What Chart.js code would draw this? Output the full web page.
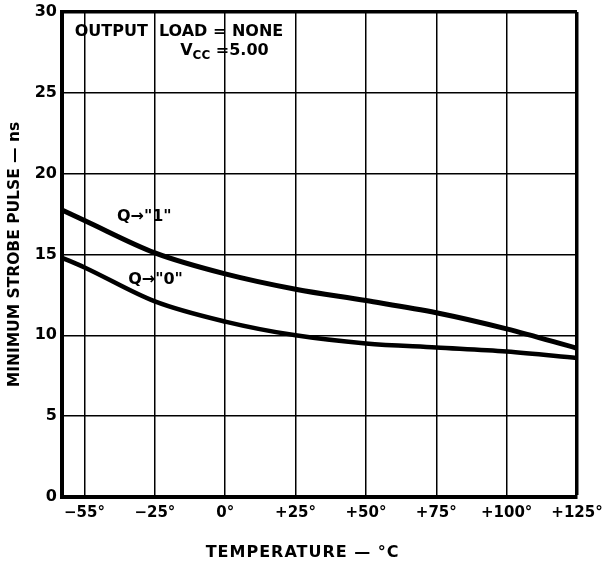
<!DOCTYPE html>
<html>
<head>
<meta charset="utf-8">
<script src="https://cdn.jsdelivr.net/npm/chart.js@4.4.1/dist/chart.umd.min.js"></script>
<style>
html,body{margin:0;padding:0;background:#fff;}
#wrap{width:605px;height:563px;position:relative;}
</style>
</head>
<body>
<div id="wrap"><canvas id="c" width="605" height="563"></canvas></div>
<script>
// Temperature positions (chart units; the first grid slot is labelled −55°)
const temps = [-58, -50, -25, 0, 25, 50, 75, 100, 125];
// Minimum strobe pulse (ns)
const pulseQ1 = [17.75, 17.1, 15.1, 13.8, 12.85, 12.15, 11.4, 10.4, 9.2];
const pulseQ0 = [14.8, 14.2, 12.1, 10.85, 10.0, 9.5, 9.25, 9.0, 8.6];
// Ticks
const xTickValues = [-50, -25, 0, 25, 50, 75, 100, 125];
const xTickLabels = ["−55°", "−25°", "0°", "+25°", "+50°", "+75°", "+100°", "+125°"];
const yTickValues = [0, 5, 10, 15, 20, 25, 30];
const xTitle = "TEMPERATURE — °C";
const yTitle = "MINIMUM STROBE PULSE — ns";

const FONT = "'DejaVu Sans', sans-serif";

const annotations = {
  id: 'annotations',
  afterDraw(chart) {
    const {ctx, scales: {x, y}} = chart;
    ctx.save();
    ctx.fillStyle = '#000';
    ctx.textBaseline = 'middle';
    ctx.textAlign = 'left';
    ctx.font = "bold 16px " + FONT;
    ctx.fillText("OUTPUT  LOAD = NONE", x.getPixelForValue(-53.5), y.getPixelForValue(28.75));
    // V_CC = 5.00
    let vx = x.getPixelForValue(-16), vy = y.getPixelForValue(27.6);
    ctx.fillText("V", vx, vy);
    let w = ctx.measureText("V").width;
    ctx.font = "bold 12px " + FONT;
    ctx.fillText("CC", vx + w, vy + 5);
    let w2 = ctx.measureText("CC").width;
    ctx.font = "bold 16px " + FONT;
    ctx.fillText(" =5.00", vx + w + w2, vy);
    // curve labels
    ctx.fillText("Q→\"1\"", x.getPixelForValue(-38.5), y.getPixelForValue(17.3));
    ctx.fillText("Q→\"0\"", x.getPixelForValue(-34.5), y.getPixelForValue(13.45));
    // x axis title
    ctx.textAlign = 'center';
    ctx.font = "bold 16px " + FONT;
    if ('letterSpacing' in ctx) ctx.letterSpacing = '1px';
    ctx.fillText(xTitle, x.getPixelForValue(27.5), 553);
    ctx.restore();
  }
};

new Chart(document.getElementById('c'), {
  type: 'line',
  data: {
    datasets: [
      {
        label: 'Q→"1"',
        data: temps.map((t, i) => ({x: t, y: pulseQ1[i]})),
        borderColor: '#000',
        borderWidth: 5,
        pointRadius: 0,
        cubicInterpolationMode: 'monotone',
        fill: false
      },
      {
        label: 'Q→"0"',
        data: temps.map((t, i) => ({x: t, y: pulseQ0[i]})),
        borderColor: '#000',
        borderWidth: 4.5,
        pointRadius: 0,
        cubicInterpolationMode: 'monotone',
        fill: false
      }
    ]
  },
  options: {
    responsive: false,
    animation: false,
    devicePixelRatio: 1,
    layout: {padding: {left: 0, right: 28, top: 12, bottom: 0}},
    plugins: {legend: {display: false}, tooltip: {enabled: false}},
    scales: {
      x: {
        type: 'linear',
        min: -58,
        max: 125,
        afterBuildTicks(scale) { scale.ticks = xTickValues.map(v => ({value: v})); },
        afterFit(scale) { scale.height = 66; scale.paddingRight = 0; scale.paddingLeft = 0; },
        ticks: {
          color: '#000',
          padding: 7,
          maxRotation: 0,
          autoSkip: false,
          font: {family: FONT, size: 15, weight: 'bold'},
          callback(v) { const i = xTickValues.indexOf(v); return i >= 0 ? xTickLabels[i] : ''; }
        },
        grid: {
          color: '#000',
          drawTicks: false,
          lineWidth: (c) => (c.tick && c.tick.value === 125 ? 3.5 : 1.5)
        },
        border: {display: true, color: '#000', width: 4},
        title: {display: false, text: xTitle}
      },
      y: {
        type: 'linear',
        min: 0,
        max: 30,
        afterBuildTicks(scale) { scale.ticks = yTickValues.map(v => ({value: v})); },
        afterFit(scale) { scale.width = 62; scale.paddingTop = 0; scale.paddingBottom = 0; },
        ticks: {
          color: '#000',
          padding: 5,
          font: {family: FONT, size: 16, weight: 'bold'}
        },
        grid: {
          color: '#000',
          drawTicks: false,
          lineWidth: (c) => (c.tick && c.tick.value === 30 ? 3.5 : 1.5)
        },
        border: {display: true, color: '#000', width: 4},
        title: {
          display: true,
          text: yTitle,
          color: '#000',
          font: {family: FONT, size: 15.5, weight: 'bold'},
          padding: {top: 6, bottom: 0}
        }
      }
    }
  },
  plugins: [annotations]
});
</script>
</body>
</html>
